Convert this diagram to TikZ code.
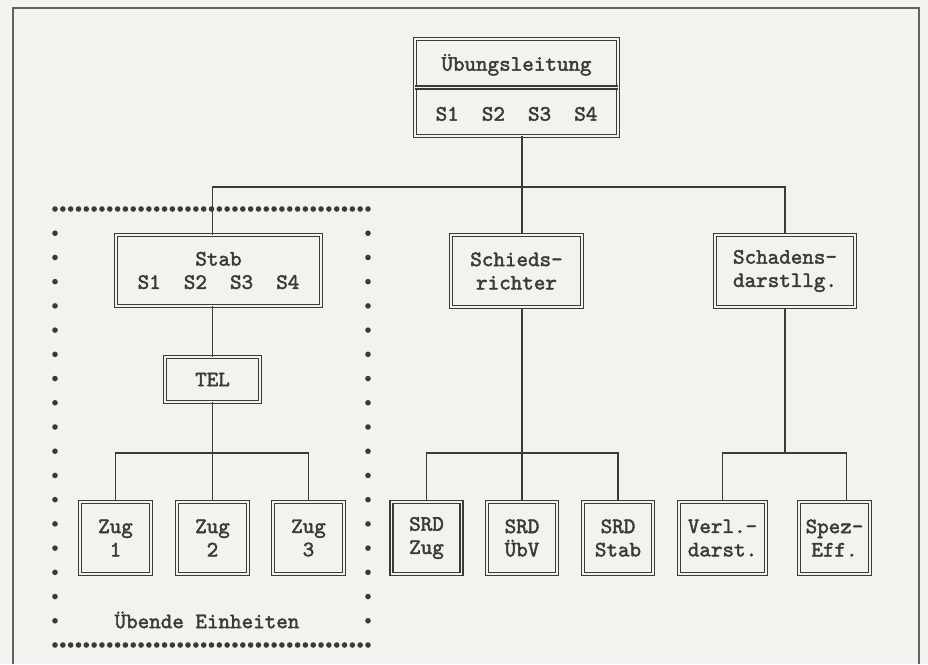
\documentclass[tikz,border=0pt]{standalone}
\usepackage{fontspec}
\setmonofont{lmmono10-regular}[Extension=.otf,AutoFakeBold=2]
\definecolor{ink}{HTML}{3A3A3A}
\definecolor{paper}{HTML}{F2F2EF}

\begin{document}
\begin{tikzpicture}[x=0.75pt,y=-0.75pt,
  box/.style={draw=ink,line width=0.95pt,double=paper,double distance=1.2pt,fill=paper,text=ink,
    align=center,inner sep=0pt,font=\ttfamily\bfseries\fontsize{16.5}{17.5}\selectfont},
  link/.style={ink,line width=0.9pt}]
  \fill[paper] (0,0) rectangle (928,664);
  \useasboundingbox (0,0) rectangle (928,664);
  \draw[ink!80,line width=1.1pt] (13,664) -- (13,8) -- (919,8) -- (919,664);

  \node[box,minimum width=152pt,minimum height=72.5pt] (ueb) at (516.5,87.5) {Übungsleitung\\[20pt]S1~~S2~~S3~~S4};
  \draw[ink,line width=0.95pt,double=paper,double distance=1.2pt] (ueb.west) -- (ueb.east);
  \node[box,minimum width=153.5pt,minimum height=53pt] (stab) at (218.5,270.5) {Stab\\S1~~S2~~S3~~S4};
  \node[box,minimum width=98pt,minimum height=54pt] (schied) at (516.5,271) {Schieds-\\richter};
  \node[box,minimum width=105pt,minimum height=54pt] (schad) at (785,271) {Schadens-\\darstllg.};
  \node[box,minimum width=71pt,minimum height=33.5pt] (tel) at (212.5,379.5) {TEL};
  \node[box,minimum width=53pt,minimum height=54pt] (zug1) at (115.5,538) {Zug\\1};
  \node[box,minimum width=53pt,minimum height=54pt] (zug2) at (212.5,538) {Zug\\2};
  \node[box,minimum width=53pt,minimum height=54pt] (zug3) at (308.5,538) {Zug\\3};
  \node[box,minimum width=52.5pt,minimum height=54pt] (srda) at (426.5,538) {SRD\\Zug};
  \node[box,minimum width=52.5pt,minimum height=54pt] (srdb) at (522,538) {SRD\\ÜbV};
  \node[box,minimum width=52.5pt,minimum height=54pt] (srdc) at (618,538) {SRD\\Stab};
  \node[box,minimum width=65pt,minimum height=54pt] (verl) at (722.5,538) {Verl.-\\darst.};
  \node[box,minimum width=53pt,minimum height=54pt] (spez) at (834.5,538) {Spez-\\Eff.};
  \node[text=ink,font=\ttfamily\bfseries\fontsize{16.5}{17.5}\selectfont] (ueben) at (207,620) {Übende Einheiten};

  \coordinate (top) at (0,187);
  \coordinate (low) at (0,453);
  \draw[link] (ueb.south -| srdb.north) -- (schied.north -| srdb.north);
  \draw[link] (stab.north -| tel.north) -- (tel.north |- top) -- (schad.north |- top) -- (schad.north);
  \draw[link] (stab.south -| tel.north) -- (tel.north);
  \draw[link] (tel.south) -- (zug2.north);
  \draw[link] (zug1.north) -- (zug1.north |- low) -- (zug3.north |- low) -- (zug3.north);
  \draw[link] (schied.south -| srdb.north) -- (srdb.north);
  \draw[link] (srda.north) -- (srda.north |- low) -- (srdc.north |- low) -- (srdc.north);
  \draw[link] (schad.south) -- (schad.south |- low);
  \draw[link] (verl.north) -- (verl.north |- low) -- ([xshift=9pt]spez.north |- low) -- ([xshift=9pt]spez.north);

  \foreach \i in {0,...,40} {
    \fill[ink] (55+\i*7.825,209) circle (2.1pt);
    \fill[ink] (55+\i*7.825,645) circle (2.1pt);
  }
  \foreach \j in {1,...,17} {
    \fill[ink] (55,209+\j*24.222) circle (2.1pt);
    \fill[ink] (368,209+\j*24.222) circle (2.1pt);
  }
\end{tikzpicture}
\end{document}
